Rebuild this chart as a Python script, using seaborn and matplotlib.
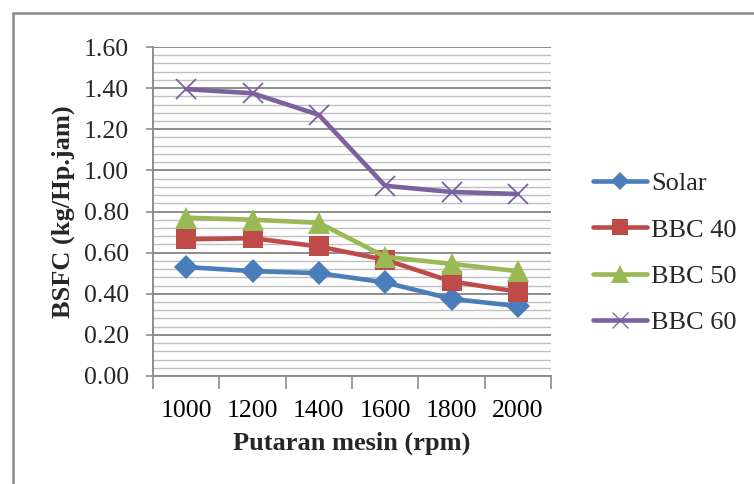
import matplotlib
matplotlib.use("Agg")
import matplotlib.pyplot as plt
from matplotlib.lines import Line2D
from matplotlib.ticker import MultipleLocator, FixedLocator
import seaborn as sns
import pandas as pd

rpm = ["1000", "1200", "1400", "1600", "1800", "2000"]
solar = [0.53, 0.51, 0.50, 0.455, 0.375, 0.34]
bbc40 = [0.665, 0.67, 0.63, 0.565, 0.46, 0.41]
bbc50 = [0.77, 0.76, 0.745, 0.58, 0.545, 0.51]
bbc60 = [1.395, 1.375, 1.27, 0.925, 0.895, 0.885]
series_names = ["Solar", "BBC 40", "BBC 50", "BBC 60"]

sns.set_theme(style="white")
plt.rcParams["font.family"] = ["Liberation Serif", "DejaVu Serif"]

rows = []
for name, vals in zip(series_names, [solar, bbc40, bbc50, bbc60]):
    for i, (r, v) in enumerate(zip(rpm, vals)):
        rows.append({"pos": i, "rpm": r, "BSFC": v, "series": name})
df = pd.DataFrame(rows)

colors = {"Solar": "#4A7EBB", "BBC 40": "#BE4B48", "BBC 50": "#98B954", "BBC 60": "#7D60A0"}
markers = {"Solar": "D", "BBC 40": "s", "BBC 50": "^", "BBC 60": "x"}
msize = {"Solar": 12, "BBC 40": 15, "BBC 50": 15.5, "BBC 60": 15}
mew = {"Solar": 0, "BBC 40": 0, "BBC 50": 0, "BBC 60": 1.3}

fig = plt.figure(figsize=(7.54, 4.84), dpi=100)
ax = fig.add_axes([153/754, 108/484, 398/754, 329/484])

for name in series_names:
    sub = df[df["series"] == name]
    sns.lineplot(data=sub, x="pos", y="BSFC", ax=ax, color=colors[name],
                 marker=markers[name], markersize=msize[name],
                 markeredgewidth=mew[name], markeredgecolor=colors[name],
                 linewidth=3.3, label=name, legend=False, zorder=3)

ax.set_xlim(-0.5, 5.5)
ax.set_ylim(0, 1.6)
ax.set_xticks(range(len(rpm)))
ax.set_xticklabels(rpm)
ax.xaxis.set_minor_locator(FixedLocator([i - 0.5 for i in range(len(rpm) + 1)]))
ax.yaxis.set_major_locator(MultipleLocator(0.2))
ax.yaxis.set_minor_locator(MultipleLocator(0.04))
ax.set_yticklabels([f"{v:.2f}" for v in ax.get_yticks()])

ax.grid(which="major", axis="y", color="#8C8C8C", linewidth=1.4)
ax.grid(which="minor", axis="y", color="#C0C0C0", linewidth=1.0)
ax.grid(which="major", axis="x", visible=False)
ax.set_axisbelow(True)

ax.tick_params(axis="x", which="major", length=0, pad=17, labelsize=18.5, colors="black")
ax.tick_params(axis="x", which="minor", length=9, width=1.2, color="#8C8C8C", direction="out", bottom=True)
ax.tick_params(axis="y", which="major", length=5, width=1.2, color="#8C8C8C", direction="out", left=True, pad=12.5, labelsize=18.5)
ax.tick_params(axis="y", which="minor", length=0)

for s in ["top", "right"]:
    ax.spines[s].set_visible(False)
for s in ["left", "bottom"]:
    ax.spines[s].set_color("#8C8C8C")
    ax.spines[s].set_linewidth(1.4)

ax.set_xlabel("Putaran mesin (rpm)", fontsize=19, fontweight="bold")
ax.set_ylabel("BSFC (kg/Hp.jam)", fontsize=19, fontweight="bold")
ax.xaxis.set_label_coords(0.5, -0.168)
ax.yaxis.set_label_coords(-0.196, 0.5)

handles = [Line2D([0], [0], color=colors[n], linewidth=3.3, marker=markers[n],
                  markersize=msize[n] * 0.8, markeredgewidth=mew[n] * 0.7,
                  markeredgecolor=colors[n]) for n in series_names]
fig.legend(handles, series_names, loc="center left", bbox_to_anchor=(569/754, 1 - 253/484),
           frameon=False, fontsize=19, handlelength=2.05, handletextpad=0.15,
           labelspacing=0.87)

fig.add_artist(Line2D([12.5/754, 1.0], [1 - 12.5/484, 1 - 12.5/484], color="#8C8C8C", linewidth=1.8,
                      transform=fig.transFigure))
fig.add_artist(Line2D([12.5/754, 12.5/754], [0, 1 - 12.5/484], color="#8C8C8C", linewidth=1.8,
                      transform=fig.transFigure))

fig.savefig("out.png", dpi=100)
